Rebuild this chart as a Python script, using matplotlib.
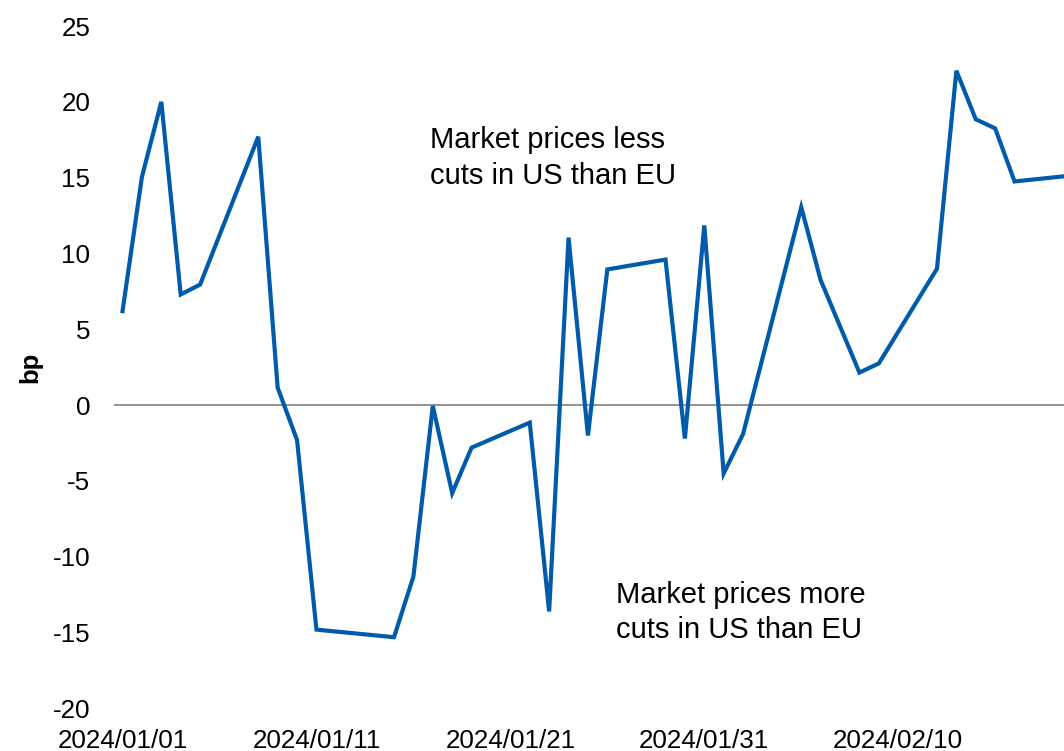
import numpy as np
import matplotlib
matplotlib.use("Agg")
import matplotlib.pyplot as plt
import matplotlib.dates as mdates

plt.rcParams['font.family'] = ['Liberation Sans', 'DejaVu Sans']

dates = ['2024-01-01', '2024-01-02', '2024-01-03', '2024-01-04', '2024-01-05',
         '2024-01-08', '2024-01-09', '2024-01-10', '2024-01-11', '2024-01-15',
         '2024-01-16', '2024-01-17', '2024-01-18', '2024-01-19', '2024-01-22',
         '2024-01-23', '2024-01-24', '2024-01-25', '2024-01-26', '2024-01-29',
         '2024-01-30', '2024-01-31', '2024-02-01', '2024-02-02', '2024-02-05',
         '2024-02-06', '2024-02-08', '2024-02-09', '2024-02-12', '2024-02-13',
         '2024-02-14', '2024-02-15', '2024-02-16', '2024-02-19']
values = [6.2, 15.05, 20.0, 7.3, 7.95,
          17.7, 1.15, -2.3, -14.8, -15.3,
          -11.3, -0.05, -5.8, -2.8, -1.15,
          -13.6, 11.05, -2.0, 8.95, 9.6,
          -2.2, 11.85, -4.5, -1.9, 13.05,
          8.25, 2.15, 2.75, 9.0, 22.05,
          18.85, 18.25, 14.75, 15.15]
tick_dates = ['2024-01-01', '2024-01-11', '2024-01-21', '2024-01-31', '2024-02-10']
y_ticks = [25, 20, 15, 10, 5, 0, -5, -10, -15, -20]
label_upper = "Market prices less\ncuts in US than EU"
label_lower = "Market prices more\ncuts in US than EU"
y_label = "bp"

W, H = 1064, 751
fig = plt.figure(figsize=(W / 100, H / 100), dpi=100)
ax = fig.add_axes([114 / W, 1 - 708.5 / H, 1 - 114 / W, (708.5 - 26) / H])

x = np.array(dates, dtype='datetime64[D]')
ax.axhline(0, color='#808080', lw=1.2, zorder=1)
ax.plot(x, values, color='#005BAA', lw=3.0, solid_joinstyle='miter', zorder=2)

start = np.datetime64('2024-01-01', 'D')
ax.set_xlim(mdates.date2num(start) - 0.44, mdates.date2num(start) + 48.55)
ax.set_ylim(-20, 25)
ax.set_yticks(y_ticks)
ax.set_yticklabels([str(v) for v in y_ticks])
ax.set_xticks(mdates.date2num(np.array(tick_dates, dtype='datetime64[D]')))
ax.xaxis.set_major_formatter(mdates.DateFormatter('%Y/%m/%d'))
ax.tick_params(axis='both', length=0, labelsize=18.7, colors='black')
ax.tick_params(axis='y', pad=17)
ax.tick_params(axis='x', pad=14.5)
for s in ax.spines.values():
    s.set_visible(False)

fig.text(30 / W, 1 - 367 / H, y_label, rotation=90, ha='center', va='center',
         fontsize=18.5, fontweight='bold')
fig.text(430 / W, 1 - 184 / H, label_upper, ha='left', va='baseline', fontsize=21,
         linespacing=1.36)
fig.text(616 / W, 1 - 638.5 / H, label_lower, ha='left', va='baseline', fontsize=21,
         linespacing=1.36)

fig.savefig('out.png', dpi=100)
